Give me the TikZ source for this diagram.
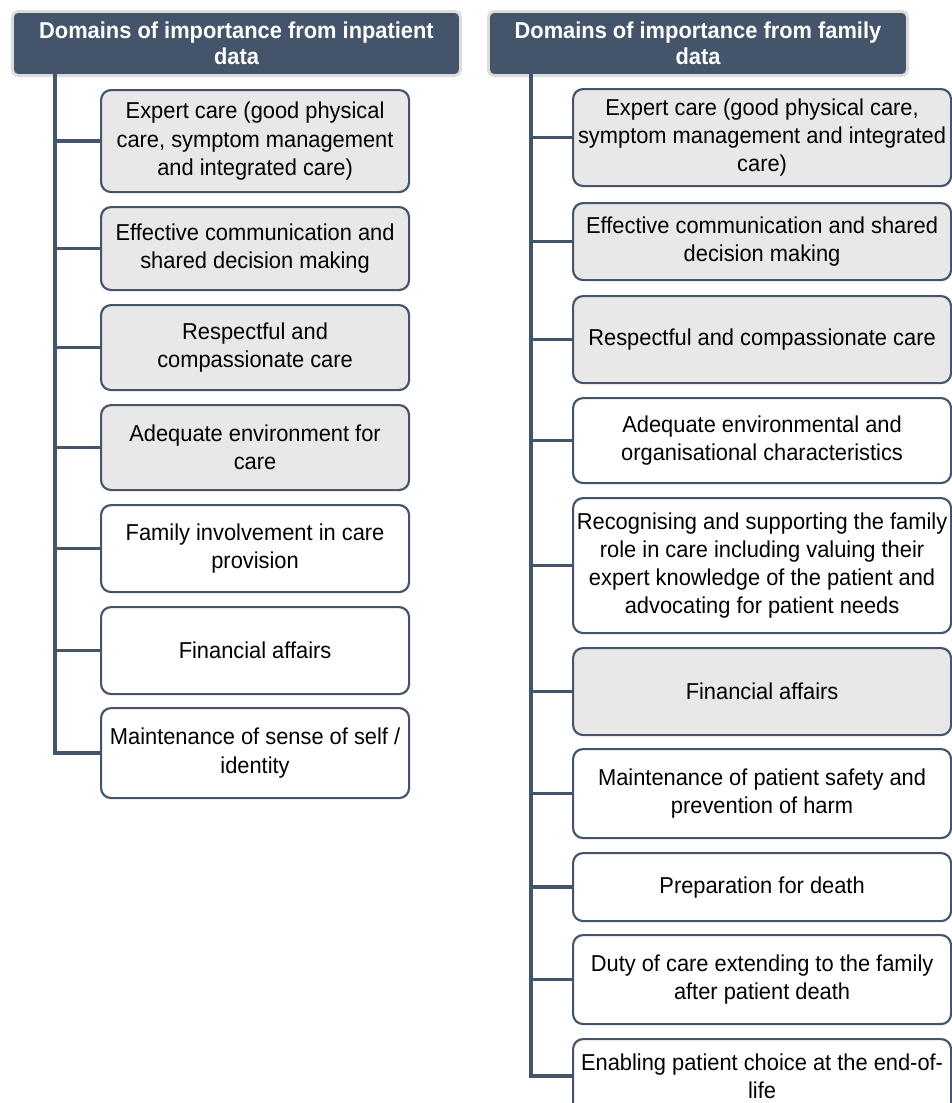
\documentclass[tikz,border=0pt]{standalone}
\usepackage{fontspec}
\setmainfont{Liberation Sans}[FakeStretch=0.95]
\definecolor{slate}{HTML}{44546A}
\definecolor{boxgrey}{HTML}{E8E8E8}
\definecolor{halo}{HTML}{DCDCDC}
\begin{document}
\begin{tikzpicture}[x=0.75pt,y=-0.75pt,
  % size in pixel units: width, height
  px/.style 2 args={minimum width=#1*0.75pt, minimum height=#2*0.75pt},
  header/.style={fill=slate, draw=halo, line width=2.2pt, rounded corners=4pt,
    inner sep=0pt, text=white, align=center, anchor=north west,
    font=\bfseries\fontsize{17.25pt}{19.5pt}\selectfont},
  item/.style={draw=slate, line width=1.6pt, rounded corners=7.5pt, inner sep=0pt,
    align=center, text=black, anchor=north west,
    font=\fontsize{17.25pt}{21.2pt}\selectfont},
  greyitem/.style={item, fill=boxgrey},
  whiteitem/.style={item, fill=white},
  conn/.style={draw=slate, line width=2.4pt}
]
\clip (0,0) rectangle (952,1103);
\fill[white] (0,0) rectangle (952,1103);

% ---- inpatient column ----
\node[header, px={448}{64}] (h1) at (11,10) {Domains of importance from inpatient\\data};
\coordinate (ltop) at (55,74);

\node[greyitem,  px={308}{102}] (l1) at (100,89)  {Expert care (good physical\\care, symptom management\\and integrated care)};
\node[greyitem,  px={308}{83}]  (l2) at (100,206) {Effective communication and\\shared decision making};
\node[greyitem,  px={308}{85}]  (l3) at (100,304) {Respectful and\\compassionate care};
\node[greyitem,  px={308}{85}]  (l4) at (100,404) {Adequate environment for\\care};
\node[whiteitem, px={308}{87}]  (l5) at (100,504) {Family involvement in care\\provision};
\node[whiteitem, px={308}{87}]  (l6) at (100,606) {Financial affairs};
\node[whiteitem, px={308}{90}]  (l7) at (100,707) {Maintenance of sense of self /\\identity};

\draw[conn] (ltop) |- (l7.west);
\foreach \i in {1,...,6} \draw[conn] (l\i.west -| ltop) -- (l\i.west);

% ---- family column ----
\node[header, px={419}{64}] (h2) at (487,10) {Domains of importance from family\\data};
\coordinate (rtop) at (531,74);

\node[greyitem,  px={378}{97}]  (r1)  at (572,88)   {Expert care (good physical care,\\symptom management and integrated\\care)};
\node[greyitem,  px={378}{77}]  (r2)  at (572,202)  {Effective communication and shared\\decision making};
\node[greyitem,  px={378}{87}]  (r3)  at (572,295)  {Respectful and compassionate care};
\node[whiteitem, px={378}{85}]  (r4)  at (572,397)  {Adequate environmental and\\organisational characteristics};
\node[whiteitem, px={378}{135}] (r5)  at (572,497)  {Recognising and supporting the family\\role in care including valuing their\\expert knowledge of the patient and\\advocating for patient needs};
\node[greyitem,  px={378}{87}]  (r6)  at (572,647)  {Financial affairs};
\node[whiteitem, px={378}{89}]  (r7)  at (572,748)  {Maintenance of patient safety and\\prevention of harm};
\node[whiteitem, px={378}{68}]  (r8)  at (572,852)  {Preparation for death};
\node[whiteitem, px={378}{89}]  (r9)  at (572,934)  {Duty of care extending to the family\\after patient death};
\node[whiteitem, px={378}{74}]  (r10) at (572,1038) {Enabling patient choice at the end-of-\\life};

\draw[conn] (rtop) |- (r10.west);
\foreach \i in {1,...,9} \draw[conn] (r\i.west -| rtop) -- (r\i.west);
\end{tikzpicture}
\end{document}
